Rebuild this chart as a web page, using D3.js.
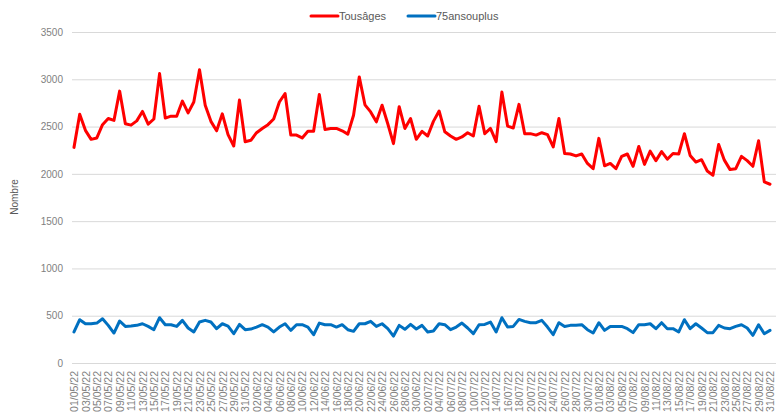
<!DOCTYPE html>
<html><head><meta charset="utf-8">
<script src="https://cdn.jsdelivr.net/npm/d3@7"></script>
<style>body{margin:0;background:#fff}svg{display:block}</style>
</head><body>
<svg id="c" width="776" height="412"></svg>
<script>
const dates = ["01/05/22","02/05/22","03/05/22","04/05/22","05/05/22","06/05/22","07/05/22","08/05/22","09/05/22","10/05/22",
"11/05/22","12/05/22","13/05/22","14/05/22","15/05/22","16/05/22","17/05/22","18/05/22","19/05/22","20/05/22",
"21/05/22","22/05/22","23/05/22","24/05/22","25/05/22","26/05/22","27/05/22","28/05/22","29/05/22","30/05/22","31/05/22",
"01/06/22","02/06/22","03/06/22","04/06/22","05/06/22","06/06/22","07/06/22","08/06/22","09/06/22","10/06/22",
"11/06/22","12/06/22","13/06/22","14/06/22","15/06/22","16/06/22","17/06/22","18/06/22","19/06/22","20/06/22",
"21/06/22","22/06/22","23/06/22","24/06/22","25/06/22","26/06/22","27/06/22","28/06/22","29/06/22","30/06/22",
"01/07/22","02/07/22","03/07/22","04/07/22","05/07/22","06/07/22","07/07/22","08/07/22","09/07/22","10/07/22",
"11/07/22","12/07/22","13/07/22","14/07/22","15/07/22","16/07/22","17/07/22","18/07/22","19/07/22","20/07/22",
"21/07/22","22/07/22","23/07/22","24/07/22","25/07/22","26/07/22","27/07/22","28/07/22","29/07/22","30/07/22","31/07/22",
"01/08/22","02/08/22","03/08/22","04/08/22","05/08/22","06/08/22","07/08/22","08/08/22","09/08/22","10/08/22",
"11/08/22","12/08/22","13/08/22","14/08/22","15/08/22","16/08/22","17/08/22","18/08/22","19/08/22","20/08/22",
"21/08/22","22/08/22","23/08/22","24/08/22","25/08/22","26/08/22","27/08/22","28/08/22","29/08/22","30/08/22","31/08/22"];

const tousAges = [2280,2630,2460,2365,2380,2520,2585,2565,2875,2530,
2515,2560,2660,2525,2580,3060,2590,2610,2610,2770,
2645,2760,3100,2725,2555,2455,2635,2415,2295,2780,2340,
2355,2435,2480,2520,2580,2760,2850,2410,2410,2380,
2450,2450,2840,2470,2480,2480,2455,2420,2620,3025,
2730,2655,2550,2725,2530,2320,2710,2480,2585,2365,
2450,2400,2555,2665,2445,2400,2365,2390,2435,2400,
2715,2425,2480,2340,2865,2505,2485,2735,2425,2425,
2410,2435,2415,2285,2585,2215,2210,2190,2210,2110,2055,
2375,2085,2110,2055,2185,2210,2080,2290,2100,2240,
2140,2235,2155,2215,2210,2425,2195,2125,2150,2030,
1985,2310,2145,2045,2055,2185,2140,2080,2350,1915,1890];

const ans75Plus = [328,458,415,415,422,468,398,317,444,387,
391,398,415,387,352,479,405,405,387,451,
370,328,433,451,433,363,415,391,310,408,352,
359,380,405,380,328,380,415,345,405,405,
380,299,422,405,405,380,405,352,335,415,
415,440,387,415,363,285,398,356,408,360,
398,328,338,415,405,352,380,422,370,310,
405,408,433,328,479,380,387,461,440,426,
426,451,380,299,426,387,398,398,405,352,317,
426,345,387,387,387,363,321,405,405,415,
363,426,363,363,328,458,363,415,370,321,
321,398,370,363,387,405,370,292,405,310,345];

const yTicks = [0,500,1000,1500,2000,2500,3000,3500];
const seriesNames = ["Tousâges","75ansouplus"];
const seriesColors = ["#ff0000","#0070c0"];

const svg = d3.select("#c");
const x = d3.scalePoint().domain(dates).range([74, 770]);
const y = d3.scaleLinear().domain([0, 3500]).range([363, 32]);
const gridLeft = 72, gridRight = 776;

// gridlines + y axis
const yAxis = svg.append("g").attr("transform", `translate(${gridLeft},0)`)
  .call(d3.axisLeft(y).tickValues(yTicks).tickFormat(d3.format("d")).tickSize(-(gridRight - gridLeft)).tickPadding(9));
yAxis.select(".domain").remove();
yAxis.selectAll(".tick line").attr("stroke", "#d9d9d9").attr("stroke-width", 1);
yAxis.selectAll(".tick text").attr("fill", "#7f7f7f")
  .style("font-family", "'Liberation Sans', Arial, sans-serif").style("font-size", "10px");

// x axis labels
const xAxis = svg.append("g").attr("transform", `translate(0,${y(0)})`)
  .call(d3.axisBottom(x).tickValues(dates.filter((d, i) => i % 2 === 0)).tickSize(0));
xAxis.select(".domain").remove();
xAxis.selectAll(".tick text")
  .attr("fill", "#7f7f7f")
  .style("font-family", "'Liberation Sans', Arial, sans-serif").style("font-size", "10.5px")
  .attr("transform", "rotate(-90)")
  .attr("text-anchor", "end")
  .attr("x", -8).attr("y", 0).attr("dy", "0.35em");

// lines
const line = d3.line().x((d, i) => x(dates[i])).y(d => y(d));
[tousAges, ans75Plus].forEach((s, k) => {
  svg.append("path").datum(s).attr("d", line)
    .attr("fill", "none").attr("stroke", seriesColors[k])
    .attr("stroke-width", 3).attr("stroke-linejoin", "round").attr("stroke-linecap", "round");
});

// y title
svg.append("text").attr("transform", "translate(18,197) rotate(-90)")
  .attr("text-anchor", "middle").attr("fill", "#595959")
  .style("font-family", "'Liberation Sans', Arial, sans-serif").style("font-size", "10px")
  .text("Nombre");

// legend
const legX = [311, 408];
seriesNames.forEach((n, k) => {
  svg.append("line").attr("x1", legX[k]).attr("x2", legX[k] + 27).attr("y1", 16).attr("y2", 16)
    .attr("stroke", seriesColors[k]).attr("stroke-width", 3).attr("stroke-linecap", "round");
  svg.append("text").attr("x", legX[k] + 28).attr("y", 16).attr("dy", "0.35em")
    .attr("fill", "#595959")
    .style("font-family", "'Liberation Sans Narrow', 'Liberation Sans', Arial, sans-serif").style("font-size", "11px")
    .text(n);
});
</script>
</body></html>
